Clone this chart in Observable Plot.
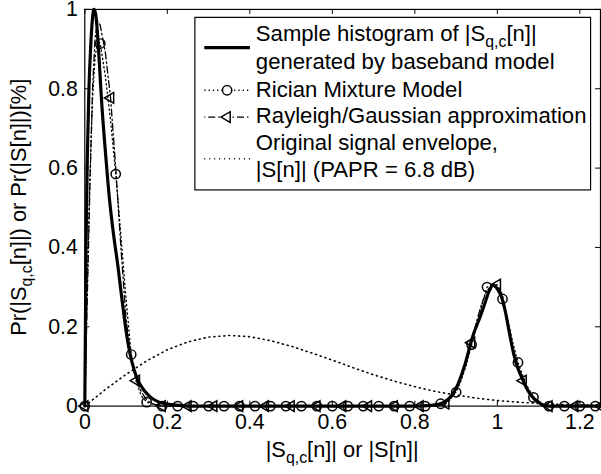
<!DOCTYPE html>
<html><head><meta charset="utf-8">
<script src="https://cdn.jsdelivr.net/npm/d3@7"></script>
<script src="https://cdn.jsdelivr.net/npm/@observablehq/plot@0.6"></script>
<style>html,body{margin:0;padding:0;background:#fff;overflow:hidden;}</style>
</head><body><div id="chart"></div>
<script>
const xTicks = [0, 0.2, 0.4, 0.6, 0.8, 1, 1.2];
const yTicks = [0, 0.2, 0.4, 0.6, 0.8, 1];

// Sample histogram of |S_q,c[n]| (solid)
const histX = [0, 0.003, 0.006, 0.01, 0.014, 0.018, 0.022, 0.026, 0.03, 0.035, 0.04, 0.05, 0.06, 0.07, 0.08, 0.09, 0.1, 0.11, 0.12, 0.13, 0.14, 0.15, 0.16, 0.18, 0.2, 0.23, 0.26, 0.3, 0.5, 0.7, 0.8, 0.84, 0.86, 0.88, 0.9, 0.92, 0.94, 0.96, 0.97, 0.98, 0.99, 1.0, 1.01, 1.02, 1.03, 1.04, 1.05, 1.06, 1.07, 1.08, 1.09, 1.1, 1.115, 1.14, 1.2, 1.25];
const histY = [0, 0.4, 0.62, 0.8, 0.9, 0.97, 1.0, 0.99, 0.95, 0.87, 0.78, 0.64, 0.52, 0.43, 0.355, 0.27, 0.19, 0.13, 0.09, 0.062, 0.045, 0.032, 0.022, 0.01, 0.005, 0.002, 0, 0, 0, 0, 0, 0.002, 0.005, 0.016, 0.045, 0.1, 0.175, 0.23, 0.26, 0.29, 0.306, 0.295, 0.275, 0.235, 0.18, 0.13, 0.095, 0.07, 0.047, 0.03, 0.018, 0.01, 0, 0, 0, 0];

// Rician Mixture Model (dotted line + circles)
const ricX = [0, 0.006, 0.0125, 0.019, 0.025, 0.031, 0.0375, 0.05, 0.0625, 0.075, 0.0875, 0.1, 0.1125, 0.125, 0.1375, 0.15, 0.175, 0.2, 0.8375, 0.8625, 0.875, 0.8875, 0.9, 0.9125, 0.925, 0.9375, 0.95, 0.9625, 0.975, 0.9875, 1.0, 1.0125, 1.025, 1.0375, 1.05, 1.0625, 1.075, 1.0875, 1.1, 1.1125, 1.125, 1.25];
const ricY = [0, 0.3, 0.58, 0.78, 0.88, 0.92, 0.914, 0.83, 0.72, 0.585, 0.43, 0.27, 0.13, 0.06, 0.025, 0.01, 0.002, 0, 0, 0.006, 0.014, 0.025, 0.035, 0.065, 0.105, 0.155, 0.205, 0.255, 0.3, 0.305, 0.295, 0.27, 0.22, 0.16, 0.11, 0.075, 0.045, 0.022, 0.01, 0.004, 0, 0];
const ricMarkX = [0, 0.0375, 0.075, 0.1125, 0.15, 0.1875, 0.225, 0.2625, 0.3, 0.3375, 0.375, 0.4125, 0.45, 0.4875, 0.525, 0.5625, 0.6, 0.6375, 0.675, 0.7125, 0.75, 0.7875, 0.825, 0.8625, 0.9, 0.9375, 0.975, 1.0125, 1.05, 1.0875, 1.125, 1.1625, 1.2, 1.2375];
const ricMarkY = [0, 0.914, 0.585, 0.13, 0.01, 0, 0, 0, 0, 0, 0, 0, 0, 0, 0, 0, 0, 0, 0, 0, 0, 0, 0, 0.006, 0.035, 0.155, 0.3, 0.27, 0.11, 0.022, 0, 0, 0, 0];

// Rayleigh/Gaussian approximation (dash-dot + left triangles)
const rayX = [0, 0.00625, 0.0125, 0.01875, 0.025, 0.03125, 0.0375, 0.05, 0.0625, 0.075, 0.0875, 0.1, 0.1125, 0.125, 0.1375, 0.15, 0.1625, 0.1875, 0.85, 0.875, 0.8875, 0.9, 0.9125, 0.925, 0.9375, 0.95, 0.9625, 0.975, 0.9875, 1.0, 1.0125, 1.025, 1.0375, 1.05, 1.0625, 1.075, 1.0875, 1.1, 1.1125, 1.125, 1.25];
const rayY = [0, 0.28, 0.56, 0.8, 0.93, 0.97, 0.96, 0.89, 0.777, 0.6, 0.4, 0.22, 0.115, 0.064, 0.035, 0.016, 0.006, 0, 0, 0.006, 0.018, 0.04, 0.075, 0.115, 0.16, 0.215, 0.26, 0.292, 0.305, 0.306, 0.28, 0.215, 0.145, 0.1, 0.064, 0.036, 0.017, 0.007, 0.002, 0, 0];
const rayMarkX = [0, 0.0625, 0.125, 0.1875, 0.25, 0.3125, 0.375, 0.4375, 0.5, 0.5625, 0.625, 0.6875, 0.75, 0.8125, 0.875, 0.9375, 1.0, 1.0625, 1.125, 1.1875, 1.25];
const rayMarkY = [0, 0.777, 0.064, 0, 0, 0, 0, 0, 0, 0, 0, 0, 0, 0, 0.006, 0.16, 0.306, 0.064, 0, 0, 0];

// Original signal envelope |S[n]| (dotted)
const envX = [0, 0.05, 0.1, 0.15, 0.2, 0.25, 0.3, 0.35, 0.4, 0.45, 0.5, 0.55, 0.6, 0.65, 0.7, 0.75, 0.8, 0.85, 0.9, 0.95, 1.0, 1.05, 1.1, 1.15, 1.2, 1.25];
const envY = [0, 0.042, 0.08, 0.114, 0.142, 0.162, 0.174, 0.178, 0.175, 0.165, 0.151, 0.134, 0.116, 0.097, 0.079, 0.063, 0.049, 0.037, 0.028, 0.02, 0.014, 0.01, 0.0066, 0.0044, 0.0028, 0.0018];

const legendLabels = ["Sample histogram of |S", "generated by baseband model", "Rician Mixture Model", "Rayleigh/Gaussian approximation", "Original signal envelope,", "|S[n]| (PAPR = 6.8 dB)"];

const zip = (xs, ys) => xs.map((x, i) => ({x, y: ys[i]}));
const hist = zip(histX, histY), ric = zip(ricX, ricY), ricM = zip(ricMarkX, ricMarkY);
const ray = zip(rayX, rayY), rayM = zip(rayMarkX, rayMarkY), env = zip(envX, envY);

const FONT = "'Liberation Sans', Arial, Helvetica, sans-serif";
const chart = Plot.plot({
  width: 606, height: 474,
  marginLeft: 85, marginRight: 1, marginTop: 9, marginBottom: 65,
  x: {domain: [0, 1.25]},
  y: {domain: [0, 1]},
  style: {fontFamily: FONT, fontSize: "21.5px", background: "white", color: "black", overflow: "visible"},
  marks: [
    Plot.line(env, {x: "x", y: "y", stroke: "black", strokeWidth: 1.6, strokeDasharray: "1,4"}),
    Plot.line(ray, {x: "x", y: "y", stroke: "black", strokeWidth: 1.3, strokeDasharray: "7,3,1.5,3"}),
    Plot.line(ric, {x: "x", y: "y", stroke: "black", strokeWidth: 1.3, strokeDasharray: "1.3,3"}),
    Plot.dot(rayM, {x: "x", y: "y", symbol: "triangle", rotate: -90, r: 4, stroke: "black", fill: "none", strokeWidth: 1.5}),
    Plot.dot(ricM, {x: "x", y: "y", symbol: "circle", r: 4.7, stroke: "black", fill: "none", strokeWidth: 1.5}),
    Plot.line(hist, {x: "x", y: "y", stroke: "black", strokeWidth: 3.2, curve: "monotone-x"}),
    Plot.frame({stroke: "black", strokeWidth: 1.2}),
    Plot.ruleX(xTicks, {x: d => d, insetTop: 395, stroke: "black"}),
    Plot.ruleX(xTicks, {x: d => d, insetBottom: 395, stroke: "black"}),
    Plot.ruleY(yTicks, {y: d => d, insetRight: 515, stroke: "black"}),
    Plot.ruleY(yTicks, {y: d => d, insetLeft: 515, stroke: "black"}),
    Plot.axisX({ticks: xTicks, tickSize: 0, tickPadding: 8, label: null, tickFormat: d => String(d)}),
    Plot.axisY({ticks: yTicks, tickSize: 0, tickPadding: 7, label: null, tickFormat: d => String(d)})
  ]
});
document.getElementById("chart").appendChild(chart);

const svg = d3.select(chart);
// axis labels
const xl = svg.append("text").attr("x", 345).attr("y", 461).attr("text-anchor", "middle")
  .attr("font-family", FONT).attr("font-size", 22).attr("fill", "black");
xl.append("tspan").text("|S");
xl.append("tspan").attr("font-size", 16).attr("dy", 6).text("q,c");
xl.append("tspan").attr("dy", -6).text("[n]| or |S[n]|");

const yl = svg.append("text").attr("transform", "translate(26,209) rotate(-90)").attr("text-anchor", "middle")
  .attr("font-family", FONT).attr("font-size", 22).attr("fill", "black");
yl.append("tspan").text("Pr(|S");
yl.append("tspan").attr("font-size", 16).attr("dy", 6).text("q,c");
yl.append("tspan").attr("dy", -6).text("[n]|) or Pr(|S[n]|)[%]");

// legend
const lg = svg.append("g").attr("font-family", FONT).attr("font-size", 22.3).attr("fill", "black").attr("text-anchor", "start");
lg.append("rect").attr("x", 196.5).attr("y", 17.5).attr("width", 399).attr("height", 174)
  .attr("fill", "white").attr("stroke", "black").attr("stroke-width", 1.2);
const tx = 258, base = [41.5, 69.5, 97.5, 124.5, 151, 178];
const t0 = lg.append("text").attr("x", tx).attr("y", base[0]).attr("text-anchor", "start");
t0.append("tspan").text(legendLabels[0]);
t0.append("tspan").attr("font-size", 16).attr("dy", 6).text("q,c");
t0.append("tspan").attr("dy", -6).text("[n]|");
for (let i = 1; i < 6; i++) lg.append("text").attr("x", tx).attr("y", base[i]).attr("text-anchor", "start").text(legendLabels[i]);
lg.append("line").attr("x1", 206).attr("x2", 252).attr("y1", 48).attr("y2", 48).attr("stroke", "black").attr("stroke-width", 3.2);
lg.append("line").attr("x1", 206).attr("x2", 252).attr("y1", 91).attr("y2", 91).attr("stroke", "black").attr("stroke-width", 1.3).attr("stroke-dasharray", "1.3,3");
lg.append("circle").attr("cx", 229).attr("cy", 91).attr("r", 4.7).attr("fill", "white").attr("stroke", "black").attr("stroke-width", 1.5);
lg.append("line").attr("x1", 206).attr("x2", 252).attr("y1", 118).attr("y2", 118).attr("stroke", "black").attr("stroke-width", 1.3).attr("stroke-dasharray", "7,3,1.5,3").attr("stroke-dashoffset", -4);
lg.append("path").attr("d", d3.symbol(d3.symbolTriangle, Math.PI * 4 * 4)()).attr("transform", "translate(229,118) rotate(-90)")
  .attr("fill", "white").attr("stroke", "black").attr("stroke-width", 1.5);
lg.append("line").attr("x1", 206).attr("x2", 252).attr("y1", 160).attr("y2", 160).attr("stroke", "black").attr("stroke-width", 1.6).attr("stroke-dasharray", "1,4");
</script>
</body></html>
